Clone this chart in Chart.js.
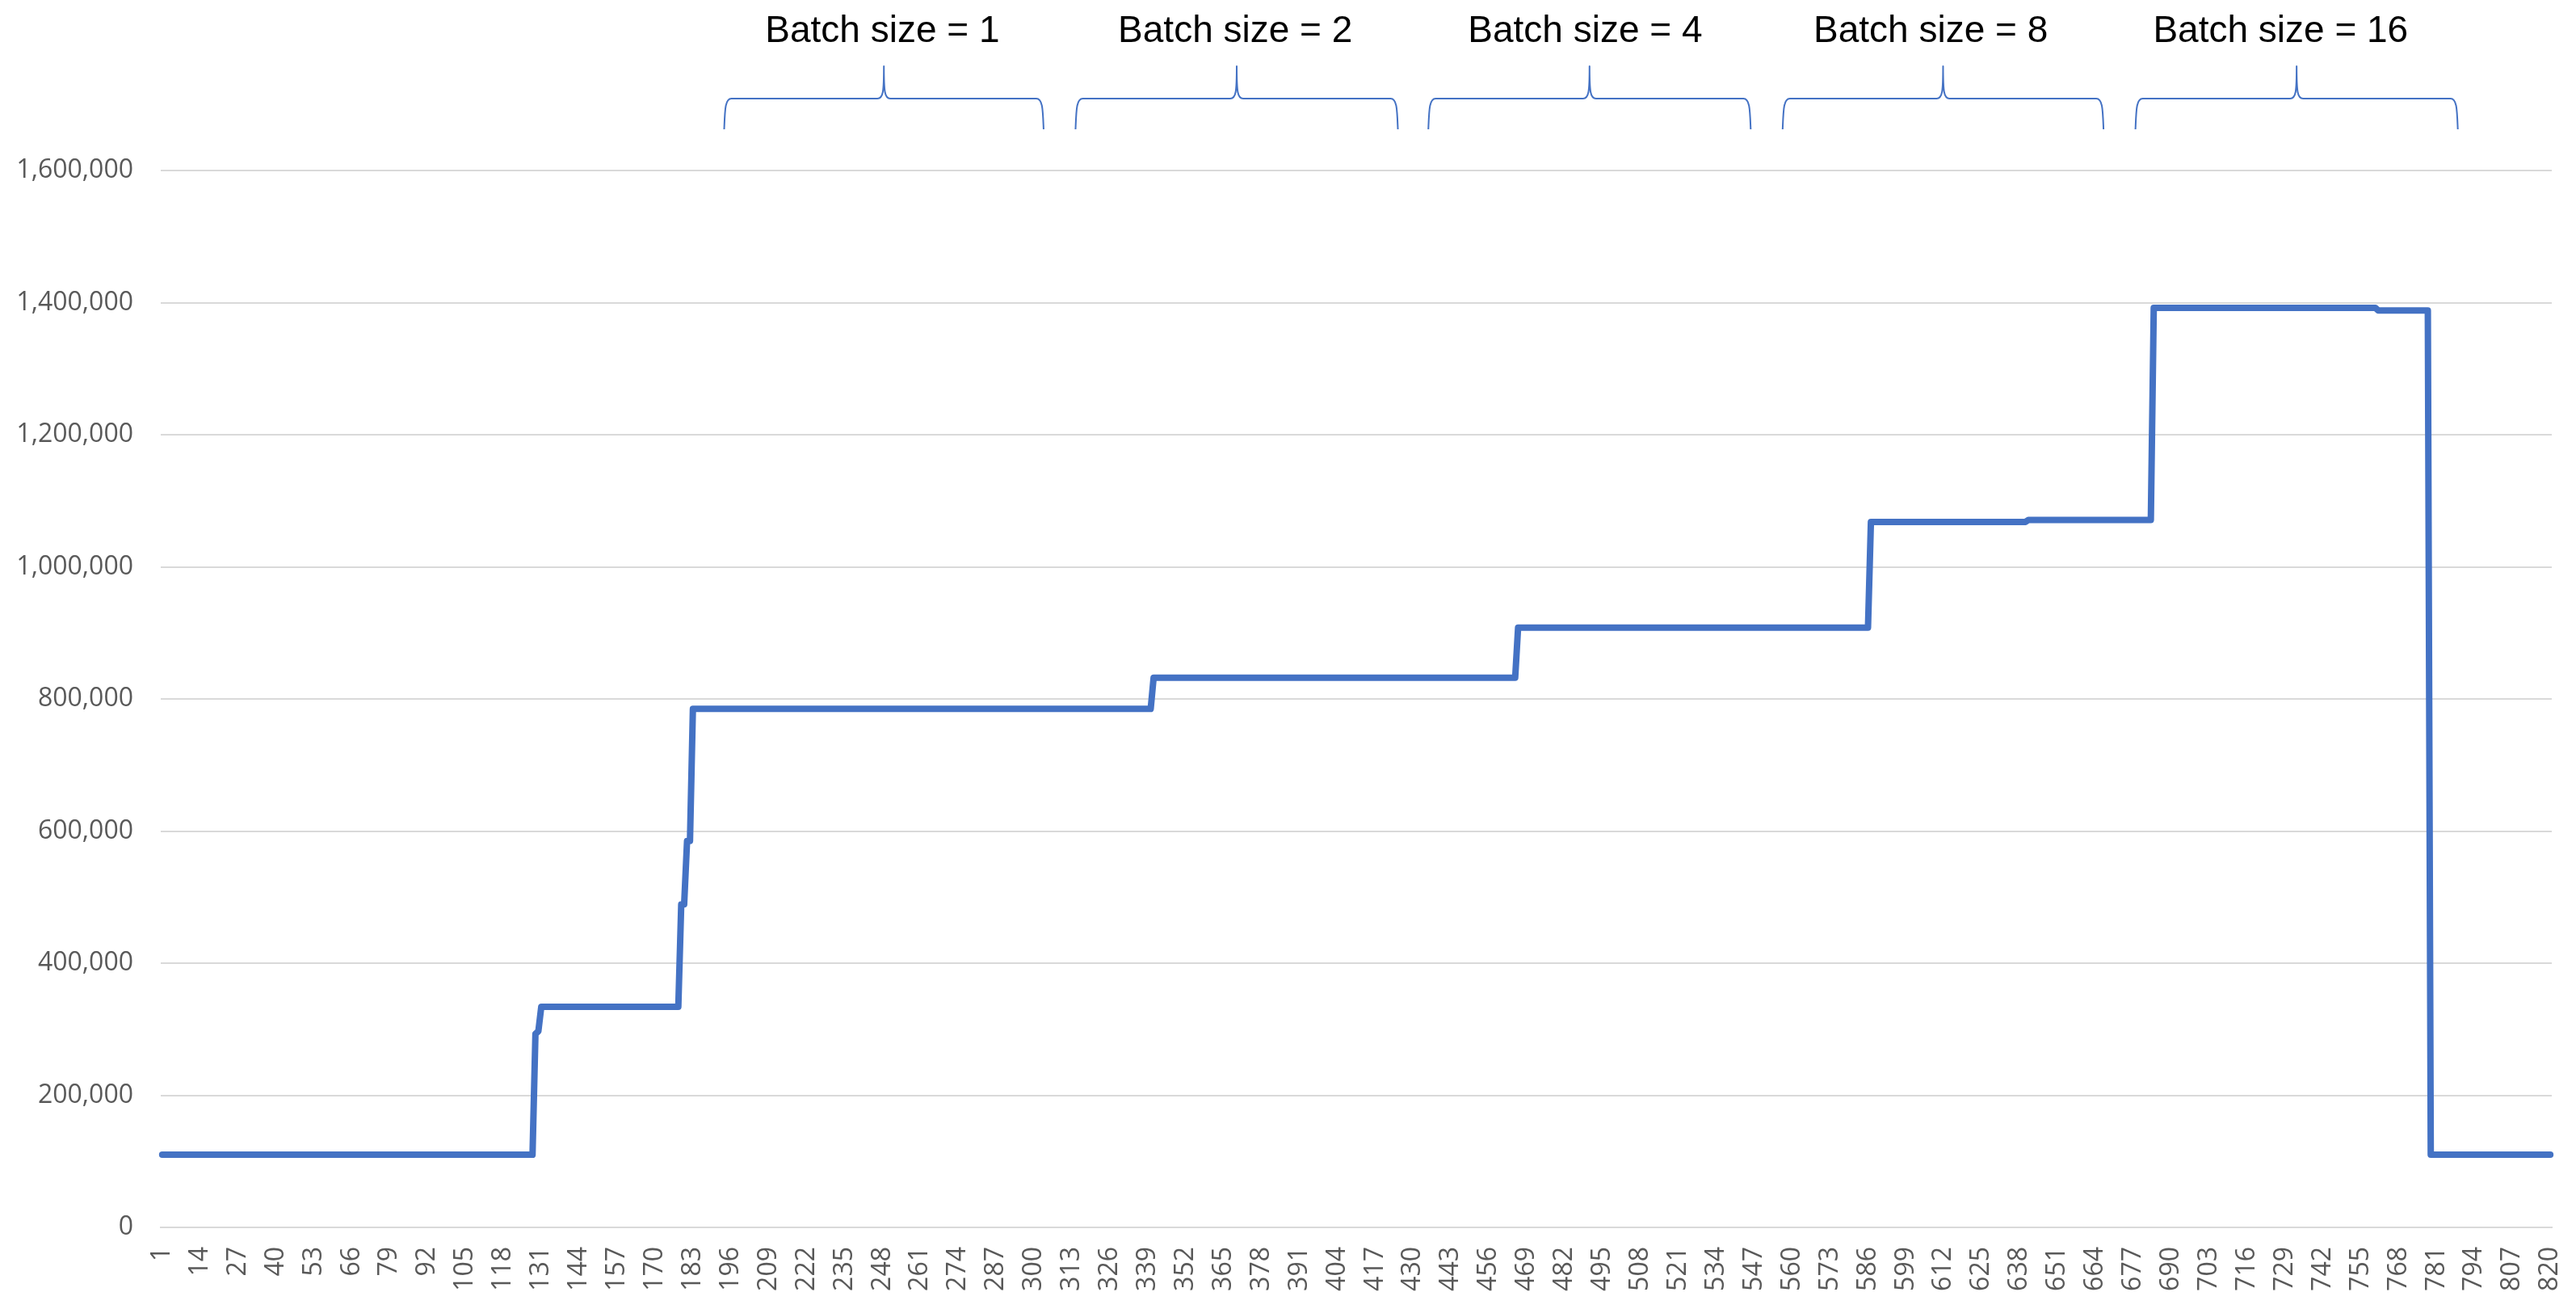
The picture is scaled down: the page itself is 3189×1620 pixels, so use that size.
<!DOCTYPE html>
<html>
<head>
<meta charset="utf-8">
<script src="https://cdn.jsdelivr.net/npm/chart.js@4/dist/chart.umd.min.js"></script>
<style>
    html, body { margin: 0; padding: 0; background: #fff; }
    canvas { display: block; }
</style>
</head>
<body>
<canvas id="chart" width="3189" height="1620"></canvas>
<script>
// x categories 1..820, a label is shown on every 13th one
const categoryCount = 820
const labelEvery = 13

// the series is a step line: each level holds until (and including) its last category
const levelValues = [110000, 293000, 297000, 334000, 489000, 585000, 785000, 832000, 908000, 1068000, 1071000, 1392000, 1388000, 110000]
const levelLastCategory = [128, 129, 130, 178, 180, 182, 340, 465, 586, 640, 683, 760, 778, 820]

// y axis
const yMin = 0
const yMax = 1600000
const yStep = 200000

// brace annotations above the plot, in category numbers
const batchLabels = ['Batch size = 1', 'Batch size = 2', 'Batch size = 4', 'Batch size = 8', 'Batch size = 16']
const braceStart = [194, 314.5, 435.5, 557, 678]
const braceEnd = [303, 424.5, 545.5, 666.5, 788]
const labelCenter = [248, 369, 489, 607.5, 727.5]

const colors = {
    line: '#4472C4',
    grid: '#D9D9D9',
    tick: '#595959',
    text: '#000000',
}

const categories = []
for (let k = 1; k <= categoryCount; k++) categories.push(String(k))

const seriesValues = []
let level = 0
for (let k = 1; k <= categoryCount; k++) {
    while (k > levelLastCategory[level]) level++
    seriesValues.push(levelValues[level])
}

const braceAnnotations = {
    id: 'braceAnnotations',
    afterDraw(chart) {
        const { ctx, chartArea, scales: { x } } = chart
        const top = chartArea.top
        const yEnd = top - 51, yLine = top - 89, yPeak = top - 129, yText = top - 172
        ctx.save()
        ctx.strokeStyle = colors.line
        ctx.lineWidth = 2
        ctx.lineJoin = 'round'
        braceStart.forEach((start, i) => {
            const x0 = x.getPixelForValue(start - 1)
            const x1 = x.getPixelForValue(braceEnd[i] - 1)
            const xm = (x0 + x1) / 2
            ctx.beginPath()
            ctx.moveTo(x0 - 1, yEnd)
            ctx.bezierCurveTo(x0, yLine + 14, x0, yLine, x0 + 8, yLine)
            ctx.lineTo(xm - 8, yLine)
            ctx.bezierCurveTo(xm - 1, yLine, xm, yLine - 8, xm, yPeak)
            ctx.bezierCurveTo(xm, yLine - 8, xm + 1, yLine, xm + 8, yLine)
            ctx.lineTo(x1 - 8, yLine)
            ctx.bezierCurveTo(x1, yLine, x1, yLine + 14, x1 + 1, yEnd)
            ctx.stroke()
        })
        ctx.fillStyle = colors.text
        ctx.font = '46px "Liberation Sans", Arial, sans-serif'
        ctx.textAlign = 'center'
        ctx.textBaseline = 'middle'
        batchLabels.forEach((text, i) => {
            ctx.fillText(text, x.getPixelForValue(labelCenter[i] - 1), yText)
        })
        ctx.restore()
    }
}

new Chart(document.getElementById('chart'), {
    type: 'line',
    data: {
        labels: categories,
        datasets: [{
            data: seriesValues,
            borderColor: colors.line,
            borderWidth: 8,
            borderJoinStyle: 'round',
            borderCapStyle: 'round',
            pointRadius: 0,
            tension: 0,
            fill: false,
        }]
    },
    options: {
        responsive: false,
        animation: false,
        devicePixelRatio: 1,
        layout: { padding: { top: 211, right: 30, left: 0, bottom: 0 } },
        plugins: {
            legend: { display: false },
            tooltip: { enabled: false },
        },
        scales: {
            x: {
                offset: true,
                grid: { display: false, drawTicks: false },
                border: { display: true, color: colors.grid, width: 2 },
                ticks: {
                    autoSkip: false,
                    minRotation: 90,
                    maxRotation: 90,
                    padding: 24,
                    color: colors.tick,
                    font: { family: '"Open Sans", sans-serif', size: 32 },
                    callback: (value, index) => index % labelEvery === 0 ? categories[index] : null,
                },
                afterFit: axis => {
                    axis.height = 101
                    axis.paddingLeft = 0
                    axis.paddingRight = 0
                },
            },
            y: {
                min: yMin,
                max: yMax,
                grid: { color: colors.grid, lineWidth: 2, drawTicks: false },
                border: { display: false },
                ticks: {
                    stepSize: yStep,
                    padding: 34,
                    color: colors.tick,
                    font: { family: '"Open Sans", sans-serif', size: 32 },
                    callback: value => value.toLocaleString('en-US'),
                },
                afterFit: axis => {
                    axis.width = 199
                    axis.paddingTop = 0
                    axis.paddingBottom = 0
                },
            },
        },
    },
    plugins: [braceAnnotations],
})
</script>
</body>
</html>
